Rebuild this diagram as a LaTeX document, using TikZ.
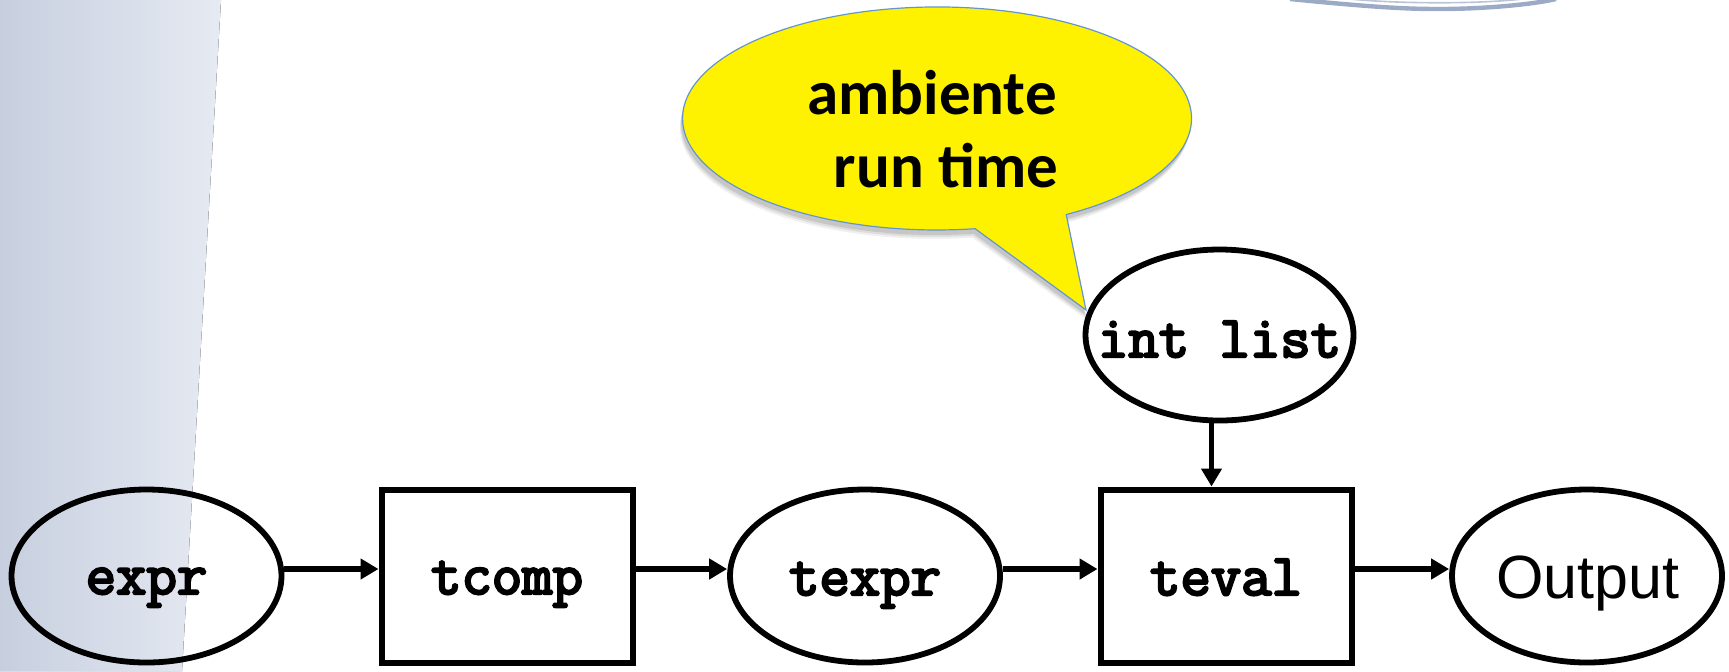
\documentclass[tikz,border=0pt]{standalone}
\usepackage{fontspec}
\usetikzlibrary{arrows.meta,shapes.geometric}
\newfontfamily\calfont{Carlito}
\newfontfamily\sansout{Liberation Sans}
\newfontfamily\codefont{Latin Modern Mono}[FakeBold=4]
\definecolor{bgleft}{RGB}{199,207,223}
\definecolor{bgright}{RGB}{230,234,242}
\definecolor{arcblue}{RGB}{155,171,198}
\definecolor{callborder}{RGB}{100,150,205}
\tikzset{
  oval/.style={draw=black, line width=2.9pt, ellipse, minimum width=135pt, minimum height=86.5pt, inner sep=0pt},
  stepbox/.style={draw=black, line width=3pt, rectangle, minimum width=125.5pt, minimum height=86.5pt, inner sep=0pt},
  codetxt/.style={font=\codefont\fontsize{29.5pt}{30pt}\selectfont, anchor=base, inner sep=0pt},
  outtxt/.style={font=\sansout\fontsize{30.5pt}{31pt}\selectfont, anchor=base, inner sep=0pt},
  calltxt/.style={font=\calfont\bfseries\fontsize{31.5pt}{32pt}\selectfont, anchor=base, inner sep=0pt},
  arr/.style={line width=2.8pt, -{Triangle[length=9pt,width=10pt]}},
}
\begin{document}
\begin{tikzpicture}[x=0.5pt,y=-0.5pt]
\useasboundingbox (0,0) rectangle (1729,671);
% background strip
\fill[left color=bgleft, right color=bgright] (0,0) -- (221,0) -- (182,671) -- (0,671) -- cycle;
% top-right decoration arc
\draw[arcblue, line width=2.2pt] (1290,-1) .. controls (1380,8) and (1410,9) .. (1440,9) .. controls (1480,9) and (1530,5) .. (1556,-1);
\draw[arcblue!70, line width=0.8pt] (1350,-1) .. controls (1400,4) and (1480,4) .. (1522,-1);
% callout shadow
\foreach \o/\op in {9/0.06,7/0.08,5/0.1}{
  \fill[black, opacity=\op] (1086,310+\o) -- (975.1-\o*0.3,228.7+\o)
    arc[start angle=81.4, end angle=419.5, x radius=254.5, y radius=111.5] -- cycle;
}
% callout
\filldraw[fill=yellow, draw=callborder, line width=0.6pt] (1086,310) -- (975.1,228.7)
  arc[start angle=81.4, end angle=419.5, x radius=254.5, y radius=111.5] -- cycle;
\node[calltxt] (amb) at (932,114) {ambiente};
\node[calltxt] (rtime) at (946,187) {run time};
% nodes
\node[oval] (expr) at (146.5,576) {};
\node[stepbox] (tcomp) at (507,576) {};
\node[oval] (texpr) at (865,576) {};
\node[stepbox] (teval) at (1226,576) {};
\node[oval] (out) at (1587,576) {};
\node[oval, minimum width=134pt, minimum height=85.5pt] (intlist) at (1219.5,335) {};
% texts
\node[codetxt] (exprT) at (146.5,594) {expr};
\node[codetxt] (tcompT) at (507,594) {tcomp};
\node[codetxt] (texprT) at (865,595) {texpr};
\node[codetxt] (tevalT) at (1226,595) {teval};
\node[outtxt] (outT) at (1588,598) {Output};
\node[codetxt] (intlistT) at (1219.5,357) {int list};
% connectors
\draw[arr] ([yshift=3.5pt]expr.east) -- ([yshift=3.5pt]expr.east -| tcomp.west);
\draw[arr] ([yshift=3.5pt]tcomp.east) -- ([yshift=3.5pt]tcomp.east -| texpr.west);
\draw[arr] ([yshift=3.5pt]texpr.east) -- ([yshift=3.5pt]texpr.east -| teval.west);
\draw[arr] ([yshift=3.5pt]teval.east) -- ([yshift=3.5pt]teval.east -| out.west);
\draw[arr] ([xshift=-4pt]intlist.south) -- ([xshift=-4pt]intlist.south |- teval.north);
\end{tikzpicture}
\end{document}
